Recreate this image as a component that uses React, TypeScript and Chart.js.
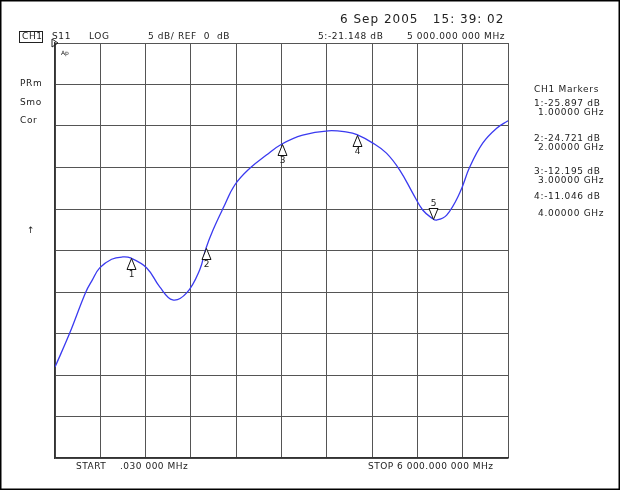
import React, { useEffect, useRef } from 'react';
import { Chart, registerables } from 'chart.js';
Chart.register(...registerables);

// Trace: S11 (dB) vs frequency (GHz)
const freqGHz = [0, 0.195, 0.407, 0.495, 0.592, 0.75, 0.897, 1.0, 1.215, 1.387, 1.559, 1.744, 1.916, 2.0, 2.093, 2.226, 2.381, 2.58, 2.8, 3.0, 3.28, 3.62, 3.87, 4.0, 4.21, 4.39, 4.566, 4.738, 4.87, 5.0, 5.055, 5.188, 5.36, 5.493, 5.665, 5.85, 6.0];
const s11dB = [-39.05, -34.95, -30.02, -28.54, -27.1, -26.05, -25.78, -25.897, -27.1, -29.38, -30.95, -30.11, -27.34, -24.721, -22.53, -19.92, -17.11, -15.1, -13.5, -12.195, -11.1, -10.58, -10.74, -11.046, -12.06, -13.27, -15.31, -18.08, -20.12, -21.148, -21.33, -20.73, -18.08, -14.95, -12.06, -10.26, -9.38];

// Markers
const markerGHz = [1, 2, 3, 4, 5];
const markerDb = [-25.897, -24.721, -12.195, -11.046, -21.148];
const activeMarker = 5;

// Axis setup
const xMin = 0, xMax = 6, xStep = 0.6;
const yMin = -50, yMax = 0, yStep = 5;

const dateText = '6 Sep 2005   15: 39: 02';
const startText = ['START', '.030 000 MHz'];
const stopText = 'STOP 6 000.000 000 MHz';
const sideTexts = ['PRm', 'Smo', 'Cor'];

const FONT = '"DejaVu Sans", sans-serif';

const overlayPlugin = {
  id: 'overlay',
  afterDatasetsDraw(chart: any) {
    const ctx = chart.ctx as any;
    const xs = chart.scales.x, ys = chart.scales.y;
    ctx.save();
    ctx.strokeStyle = '#111';
    ctx.lineWidth = 1;
    ctx.font = `9px ${FONT}`;
    ctx.textAlign = 'center';
    ctx.textBaseline = 'middle';
    markerGHz.forEach((f, i) => {
      const px = Math.round(xs.getPixelForValue(f)) + 0.5;
      const py = Math.round(ys.getPixelForValue(markerDb[i])) + 0.5;
      const n = i + 1;
      const dir = n === activeMarker ? -1 : 1;
      ctx.beginPath();
      ctx.moveTo(px, py);
      ctx.lineTo(px - 4.5, py + dir * 11);
      ctx.lineTo(px + 4.5, py + dir * 11);
      ctx.closePath();
      ctx.fillStyle = '#fff';
      ctx.fill();
      ctx.stroke();
      ctx.fillStyle = '#222';
      ctx.fillText(String(n), px, py + dir * 16);
    });
    ctx.restore();
  },
  afterDraw(chart: any) {
    const ctx = chart.ctx as any;
    const area = chart.chartArea;
    ctx.save();
    ctx.fillStyle = '#222';
    ctx.textBaseline = 'middle';
    ctx.textAlign = 'left';
    // date
    ctx.font = `12px ${FONT}`;
    ctx.letterSpacing = '1px';
    ctx.fillText(dateText, 340, 20);
    // header row
    ctx.font = `9px ${FONT}`;
    ctx.letterSpacing = '0.6px';
    ctx.fillText('CH1', 22, 37);
    ctx.strokeStyle = '#222';
    ctx.lineWidth = 1;
    ctx.strokeRect(19.5, 31.5, 23, 11);
    ctx.fillText('S11', 52, 37);
    ctx.fillText('LOG', 89, 37);
    ctx.fillText(`${yStep} dB/ REF  ${yMax}  dB`, 148, 37);
    const aIdx = activeMarker - 1;
    ctx.fillText(`${activeMarker}:${markerDb[aIdx].toFixed(3)} dB`, 318, 37);
    ctx.fillText(`${markerGHz[aIdx]} 000.000 000 MHz`, 407, 37);
    // side texts
    sideTexts.forEach((t, i) => ctx.fillText(t, 20, 84 + i * 18.5));
    ctx.fillText('↑', 27, 231);
    // reference pointer
    ctx.beginPath();
    ctx.moveTo(area.left - 3, area.top - 4);
    ctx.lineTo(area.left + 3, area.top);
    ctx.lineTo(area.left - 3, area.top + 4);
    ctx.closePath();
    ctx.stroke();
    ctx.font = `6px ${FONT}`;
    ctx.letterSpacing = '0px';
    ctx.fillText('Ap', area.left + 6, area.top + 10);
    // right panel
    ctx.font = `9px ${FONT}`;
    ctx.letterSpacing = '0.7px';
    ctx.fillText('CH1 Markers', 534, 90);
    const rowY = [[104, 113], [139, 148], [172, 181], [197, 214]];
    markerGHz.slice(0, 4).forEach((f, i) => {
      ctx.fillText(`${i + 1}:${markerDb[i].toFixed(3)} dB`, 534, rowY[i][0]);
      ctx.fillText(`${f.toFixed(5)} GHz`, 538, rowY[i][1]);
    });
    // bottom
    ctx.letterSpacing = '0.5px';
    ctx.fillText(startText[0], 76, 467);
    ctx.fillText(startText[1], 120, 467);
    ctx.fillText(stopText, 368, 467);
    // outer frame
    ctx.strokeStyle = '#000';
    ctx.lineWidth = 1.5;
    ctx.strokeRect(0.75, 0.75, 618.5, 488.5);
    ctx.restore();
  },
};

export default function App() {
  const ref = useRef<HTMLCanvasElement | null>(null);
  useEffect(() => {
    if (!ref.current) return;
    const chart = new Chart(ref.current, {
      type: 'line',
      data: {
        datasets: [
          {
            data: freqGHz.map((f, i) => ({ x: f, y: s11dB[i] })),
            borderColor: '#3a3af0',
            borderWidth: 1.3,
            pointRadius: 0,
            tension: 0.4,
            fill: false,
          },
        ],
      },
      options: {
        animation: false,
        responsive: false,
        devicePixelRatio: 1,
        layout: { padding: { left: 55, right: 112, top: 43, bottom: 32 } },
        plugins: { legend: { display: false }, tooltip: { enabled: false } },
        scales: {
          x: {
            type: 'linear',
            min: xMin,
            max: xMax,
            ticks: { display: false, stepSize: xStep },
            grid: { color: '#555', lineWidth: 1, drawTicks: false },
            border: { color: '#333', width: 1.5 },
          },
          y: {
            type: 'linear',
            min: yMin,
            max: yMax,
            ticks: { display: false, stepSize: yStep },
            grid: { color: '#555', lineWidth: 1, drawTicks: false },
            border: { color: '#333', width: 1.5 },
          },
        },
      },
      plugins: [overlayPlugin],
    });
    return () => chart.destroy();
  }, []);
  return (
    <div style={{ position: 'absolute', left: 0, top: 0, width: 620, height: 490, background: '#fff' }}>
      <canvas ref={ref} width={620} height={490} style={{ width: 620, height: 490, display: 'block' }} />
    </div>
  );
}
